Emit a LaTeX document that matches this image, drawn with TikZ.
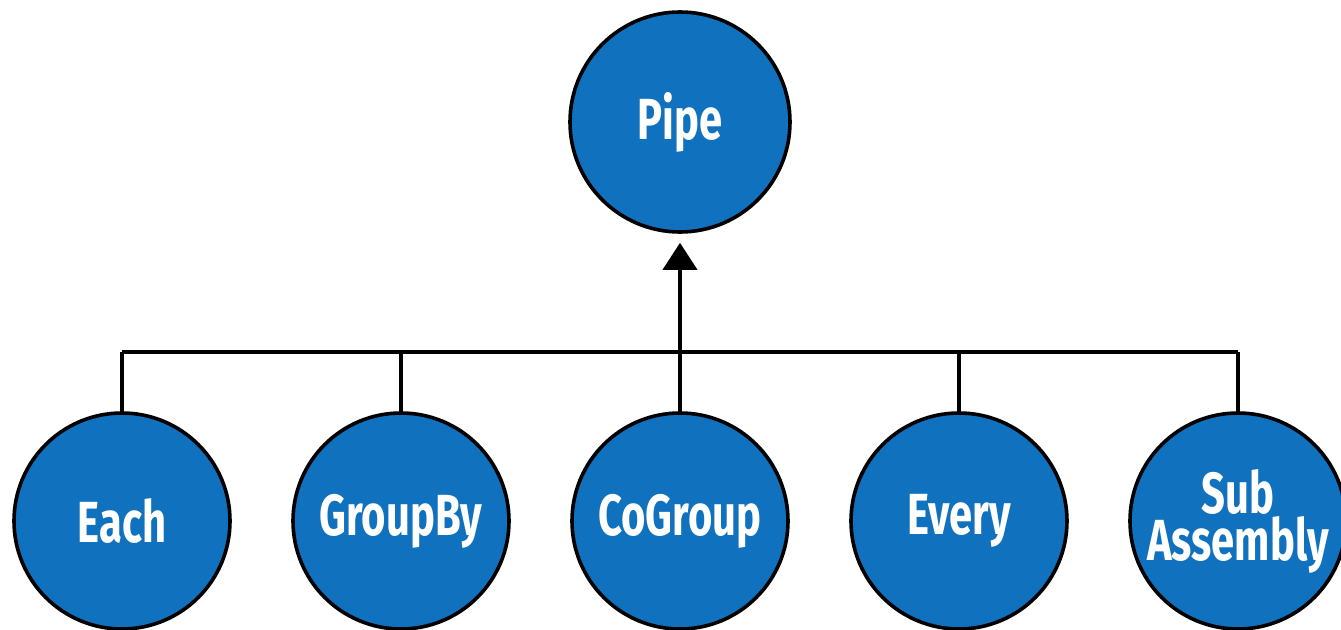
\documentclass[tikz,border=0pt]{standalone}
\usepackage{fontspec}
\setmainfont{Fira Sans}[FakeStretch=0.72]
\usetikzlibrary{arrows.meta}
\definecolor{pipeblue}{RGB}{16,113,190}
\tikzset{
  opnode/.style={circle,draw=black,line width=1.8pt,fill=pipeblue,minimum size=108pt,inner sep=0pt,
    text=white,align=center,font=\fontsize{29}{22}\selectfont\bfseries},
  link/.style={line width=2pt}
}
\begin{document}
\begin{tikzpicture}[x=0.5pt,y=0.5pt]
\useasboundingbox (0,0) rectangle (1341,629);
\node[opnode,minimum size=110pt] (pipe) at (680,507) {Pipe};
\foreach \x/\nm/\lab in {122/each/Each,401/groupby/GroupBy,680/cogroup/CoGroup,959/every/Every,1238/sub/{Sub\\Assembly}}{
 \node[opnode] (\nm) at (\x,108) {\lab};
}
\coordinate (bar) at (680,277);
\draw[link] (each.north |- bar) -- (sub.north |- bar);
\foreach \nm in {each,groupby,every,sub}{
 \draw[link] (\nm.north) -- (\nm.north |- bar);
}
\draw[link,-{Triangle[length=13.5pt,width=17pt]},shorten >=4.5pt] (cogroup.north) -- (pipe.south);
\end{tikzpicture}
\end{document}
